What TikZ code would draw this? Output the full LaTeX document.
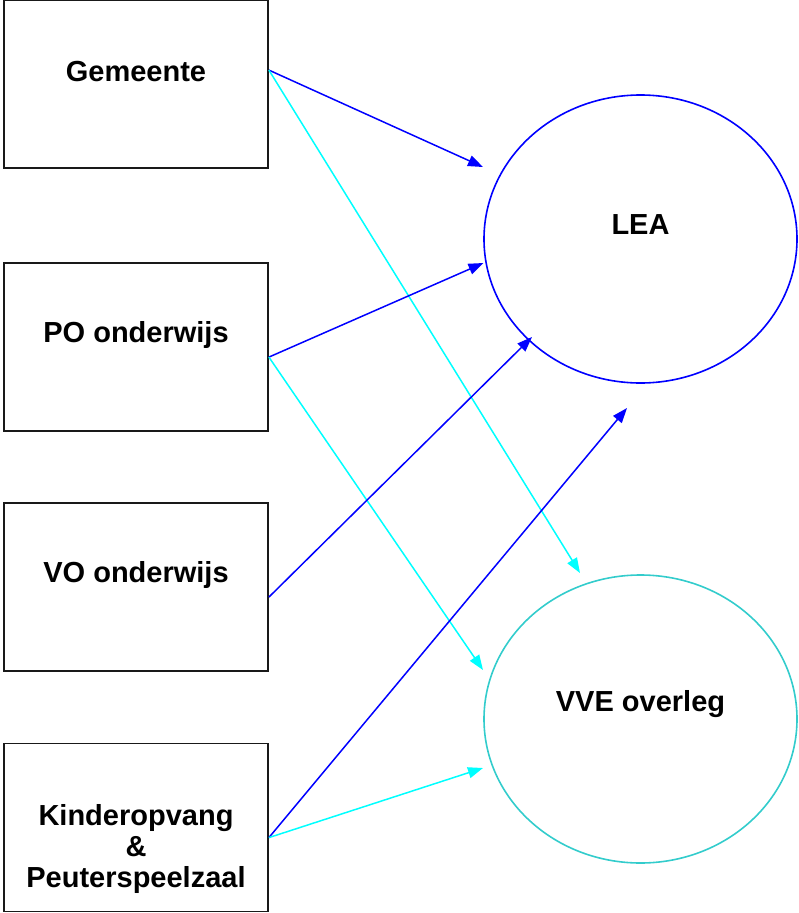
\documentclass[tikz,border=0pt]{standalone}
\usepackage{fontspec}
\setmainfont{Liberation Sans}
\usetikzlibrary{shapes.geometric,arrows.meta,calc}
\definecolor{leablue}{RGB}{0,0,255}
\definecolor{arrcyan}{RGB}{0,255,255}
\definecolor{vveteal}{RGB}{51,204,204}
\begin{document}
\begin{tikzpicture}[x=1pt,y=-1pt,
  box/.style={draw=black!90,line width=1.8pt,minimum width=264pt,minimum height=168pt,inner sep=0pt},
  lbl/.style={font=\fontsize{29}{31}\selectfont\bfseries,align=center,inner sep=0pt},
  oval/.style={ellipse,line width=1.6pt,minimum width=313pt,minimum height=288pt,inner sep=0pt},
  bluearr/.style={draw=leablue,line width=1.5pt,-{Triangle[length=15pt,width=11pt]}},
  cyanarr/.style={draw=arrcyan,line width=1.5pt,-{Triangle[length=15pt,width=11pt]}}]
\useasboundingbox (0,0) rectangle (798,913);
% boxes
\node[box] (g) at (136,84) {};
\node[lbl] (gt) at ($(g.north)+(0,72)$) {Gemeente};
\node[box] (po) at (136,347) {};
\node[lbl] (pot) at ($(po.north)+(0,73)$) {PO onderwijs};
\node[box] (vo) at (136,587) {};
\node[lbl] (vot) at ($(vo.north)+(0,73)$) {VO onderwijs};
\node[box] (ko) at (136,827.5) {};
\node[lbl] (kot) at ($(ko.north)+(0,106)$) {Kinderopvang\\\&\\Peuterspeelzaal};
% ellipses
\node[oval,draw=leablue] (lea) at (640.5,239) {};
\node[lbl] (leat) at ($(lea.center)+(0,-14)$) {LEA};
\node[oval,draw=vveteal] (vve) at (640.5,719) {};
\node[lbl] (vvet) at ($(vve.center)+(0,-15)$) {VVE overleg};
% connectors
\draw[bluearr] ($(g.north east)+(0,71)$) -- ($(lea.center)+(-157.5,-72)$);
\draw[cyanarr] ($(g.north east)+(0,71)$) -- ($(vve.center)+(-60.5,-146)$);
\draw[bluearr] ($(po.north east)+(0,95)$) -- ($(lea.center)+(-157,24)$);
\draw[cyanarr] ($(po.north east)+(0,95)$) -- ($(vve.center)+(-157.5,-49)$);
\draw[bluearr] ($(vo.north east)+(0,95)$) -- ($(lea.center)+(-108.5,98)$);
\draw[bluearr] ($(ko.north east)+(0,95)$) -- ($(lea.center)+(-13.5,169)$);
\draw[cyanarr] ($(ko.north east)+(0,95)$) -- ($(vve.center)+(-157.5,49)$);
\end{tikzpicture}
\end{document}
